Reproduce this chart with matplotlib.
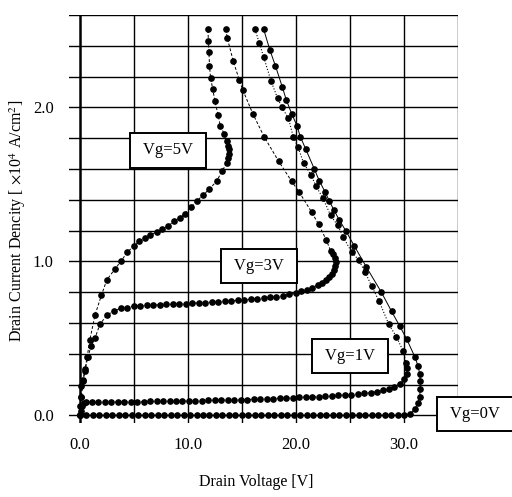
import matplotlib
matplotlib.use("Agg")
import matplotlib.pyplot as plt

plt.rcParams['font.family'] = ['Liberation Serif', 'DejaVu Serif']
plt.rcParams['mathtext.fontset'] = 'stix'

# Vg = 0V (solid)
v0 = [0.0, 0.6, 1.2, 1.8, 2.4, 3.0, 3.6, 4.2, 4.8, 5.4, 6.0, 6.6, 7.2, 7.8, 8.4, 9.0,
      9.6, 10.2, 10.8, 11.4, 12.0, 12.6, 13.2, 13.8, 14.4, 15.0, 15.6, 16.2, 16.8, 17.4,
      18.0, 18.6, 19.2, 19.8, 20.4, 21.0, 21.6, 22.2, 22.8, 23.4, 24.0, 24.6, 25.2, 25.8,
      26.4, 27.0, 27.6, 28.2, 28.8, 29.4, 30.0, 30.55, 31.0, 31.3, 31.45, 31.5, 31.5,
      31.45, 31.3, 31.0, 30.25, 29.6, 28.85, 27.9, 26.5, 25.4, 24.6, 24.0, 23.5, 23.1,
      22.7, 22.15, 21.7, 20.9, 20.4, 20.1, 19.6, 19.1, 18.75, 18.1, 17.6, 17.0]
j0 = [0.0, 0.0, 0.0, 0.0, 0.0, 0.0, 0.0, 0.0, 0.0, 0.0, 0.0, 0.0, 0.0, 0.0, 0.0, 0.0,
      0.0, 0.0, 0.0, 0.0, 0.0, 0.0, 0.0, 0.0, 0.0, 0.0, 0.0, 0.0, 0.0, 0.0,
      0.0, 0.0, 0.0, 0.0, 0.0, 0.0, 0.0, 0.0, 0.0, 0.0, 0.0, 0.0, 0.0, 0.0,
      0.0, 0.0, 0.0, 0.0, 0.0, 0.0, 0.0, 0.01, 0.04, 0.08, 0.12, 0.17, 0.22,
      0.27, 0.32, 0.38, 0.495, 0.58, 0.675, 0.80, 0.965, 1.10, 1.20, 1.27, 1.335, 1.39,
      1.45, 1.525, 1.60, 1.73, 1.81, 1.88, 1.96, 2.05, 2.13, 2.27, 2.37, 2.51]

# Vg = 1V (dotted)
v1 = [0.0, 0.1, 0.2, 0.35, 0.6, 1.1, 1.7, 2.3, 2.9, 3.5, 4.1, 4.7, 5.3, 5.9, 6.5, 7.1,
      7.7, 8.3, 8.9, 9.5, 10.1, 10.7, 11.3, 11.9, 12.5, 13.1, 13.7, 14.3, 14.9, 15.5,
      16.1, 16.7, 17.3, 17.9, 18.5, 19.1, 19.7, 20.3, 20.9, 21.5, 22.1, 22.7, 23.3, 23.9,
      24.5, 25.1, 25.7, 26.3, 26.9, 27.5, 28.1, 28.6, 29.1, 29.6, 30.0, 30.25, 30.3,
      30.2, 29.9, 29.3, 28.6, 27.7, 27.0, 26.4, 25.8, 25.15, 24.4, 23.85, 23.2, 22.5,
      21.85, 21.4, 20.7, 20.2, 19.75, 19.3, 18.7, 18.3, 17.7, 17.0, 16.6, 16.2]
j1 = [0.0, 0.03, 0.06, 0.08, 0.085, 0.085, 0.085, 0.086, 0.087, 0.087, 0.088, 0.088, 0.089,
      0.089, 0.09, 0.09, 0.091, 0.092, 0.092, 0.093, 0.094, 0.095, 0.096, 0.097, 0.098,
      0.099, 0.10, 0.10, 0.101, 0.102, 0.104, 0.105, 0.107, 0.108, 0.11, 0.112, 0.114,
      0.116, 0.118, 0.12, 0.122, 0.124, 0.126, 0.129, 0.132, 0.135, 0.139, 0.143, 0.148,
      0.154, 0.162, 0.172, 0.186, 0.205, 0.235, 0.27, 0.31,
      0.34, 0.42, 0.51, 0.59, 0.74, 0.84, 0.93, 1.01, 1.06, 1.155, 1.235, 1.30, 1.41,
      1.49, 1.56, 1.64, 1.74, 1.81, 1.93, 2.0, 2.06, 2.17, 2.33, 2.42, 2.51]

# Vg = 3V (dashed)
v3 = [0.0, 0.15, 0.3, 0.5, 0.75, 1.05, 1.4, 1.85, 2.5, 3.2, 3.8, 4.4, 5.0, 5.6, 6.2, 6.8,
      7.4, 8.0, 8.6, 9.2, 9.8, 10.4, 11.0, 11.6, 12.2, 12.8, 13.4, 14.0, 14.6, 15.2, 15.8,
      16.4, 17.0, 17.6, 18.2, 18.8, 19.4, 20.0, 20.5, 21.0, 21.5, 22.0, 22.4, 22.8, 23.1,
      23.35, 23.55, 23.65, 23.7, 23.65, 23.4, 23.2, 22.8, 22.1, 21.45, 20.3, 19.6, 18.4,
      17.05, 16.0, 15.1, 14.75, 14.2, 13.65, 13.5]
j3 = [0.0, 0.12, 0.22, 0.3, 0.38, 0.45, 0.5, 0.59, 0.65, 0.68, 0.695, 0.70, 0.71, 0.712,
      0.714, 0.716, 0.718, 0.72, 0.722, 0.724, 0.726, 0.728, 0.73, 0.732, 0.735, 0.737,
      0.74, 0.743, 0.746, 0.75, 0.753, 0.757, 0.761, 0.766, 0.771, 0.777, 0.785, 0.795,
      0.805, 0.815, 0.83, 0.845, 0.86, 0.88, 0.90,
      0.92, 0.945, 0.97, 0.995, 1.02, 1.05, 1.07, 1.14, 1.24, 1.32, 1.45, 1.52, 1.65,
      1.81, 1.96, 2.11, 2.18, 2.30, 2.45, 2.51]

# Vg = 5V (dashed)
v5 = [0.0, 0.05, 0.1, 0.15, 0.3, 0.46, 0.68, 0.93, 1.4, 2.0, 2.5, 3.25, 3.8, 4.4, 5.0, 5.5,
      6.05, 6.5, 7.1, 7.65, 8.2, 8.7, 9.26, 9.7, 10.25, 10.8, 11.4, 12.0, 12.65, 13.2,
      13.6, 13.75, 13.8, 13.8, 13.75, 13.65, 13.35, 13.0, 12.8, 12.5, 12.3, 12.1, 12.0,
      11.95, 11.9, 11.85]
j5 = [0.0, 0.06, 0.12, 0.19, 0.23, 0.29, 0.38, 0.49, 0.65, 0.78, 0.88, 0.95, 1.0, 1.06,
      1.10, 1.13, 1.15, 1.17, 1.19, 1.21, 1.23, 1.26, 1.28, 1.31, 1.35, 1.39, 1.43, 1.47,
      1.52, 1.59, 1.64, 1.67, 1.70, 1.73, 1.75, 1.78, 1.83, 1.88, 1.95, 2.04, 2.12, 2.19,
      2.27, 2.36, 2.43, 2.51]

labels = ["Vg=0V", "Vg=1V", "Vg=3V", "Vg=5V"]
label_pos = [(36.6, 0.01), (25.0, 0.385), (16.6, 0.97), (8.15, 1.72)]

fig = plt.figure(figsize=(5.12, 4.97), dpi=100)
ax = fig.add_axes([0.1348, 0.1489, 0.7598, 0.8209])
ax.set_xlim(-1, 35)
ax.set_ylim(-0.05, 2.6)
for s in ax.spines.values():
    s.set_visible(False)

for xv in [5, 10, 15, 20, 25, 30, 35]:
    ax.axvline(xv, color='black', lw=1.0, zorder=1)
ax.axvline(0, color='black', lw=1.8, zorder=1)
for k in range(14):
    ax.axhline(k * 0.2, color='black', lw=1.0, zorder=1)

mk = dict(marker='o', ms=3.8, color='black', mfc='black', mec='black', zorder=3)
ax.plot(v0, j0, ls='-', lw=0.7, **mk)
ax.plot(v1, j1, ls=':', lw=0.8, **mk)
ax.plot(v3, j3, ls=(0, (3, 2)), lw=0.7, **mk)
ax.plot(v5, j5, ls=(0, (3, 2)), lw=0.7, **mk)

for t, (x, y) in zip(labels, label_pos):
    ax.text(x, y, " " + t + " ", ha='center', va='center', fontsize=12, zorder=5, clip_on=False,
            bbox=dict(boxstyle='square,pad=0.55', fc='white', ec='black', lw=1.4))

ax.set_xticks([0, 10, 20, 30])
ax.set_xticklabels(["0.0", "10.0", "20.0", "30.0"], fontsize=12)
ax.set_yticks([0, 1, 2])
ax.set_yticklabels(["0.0", "1.0", "2.0"], fontsize=12)
ax.tick_params(length=0, pad=10)
ax.tick_params(axis='y', pad=11)

fig.text(0.5, 0.03, "Drain Voltage [V]", ha='center', va='center', fontsize=11.5)
fig.text(0.035, 0.555, r"Drain Current Dencity [ $\times$10$^4$ A/cm$^2$]", rotation=90,
         ha='center', va='center', fontsize=11.5)

fig.savefig("out.png", dpi=100)
